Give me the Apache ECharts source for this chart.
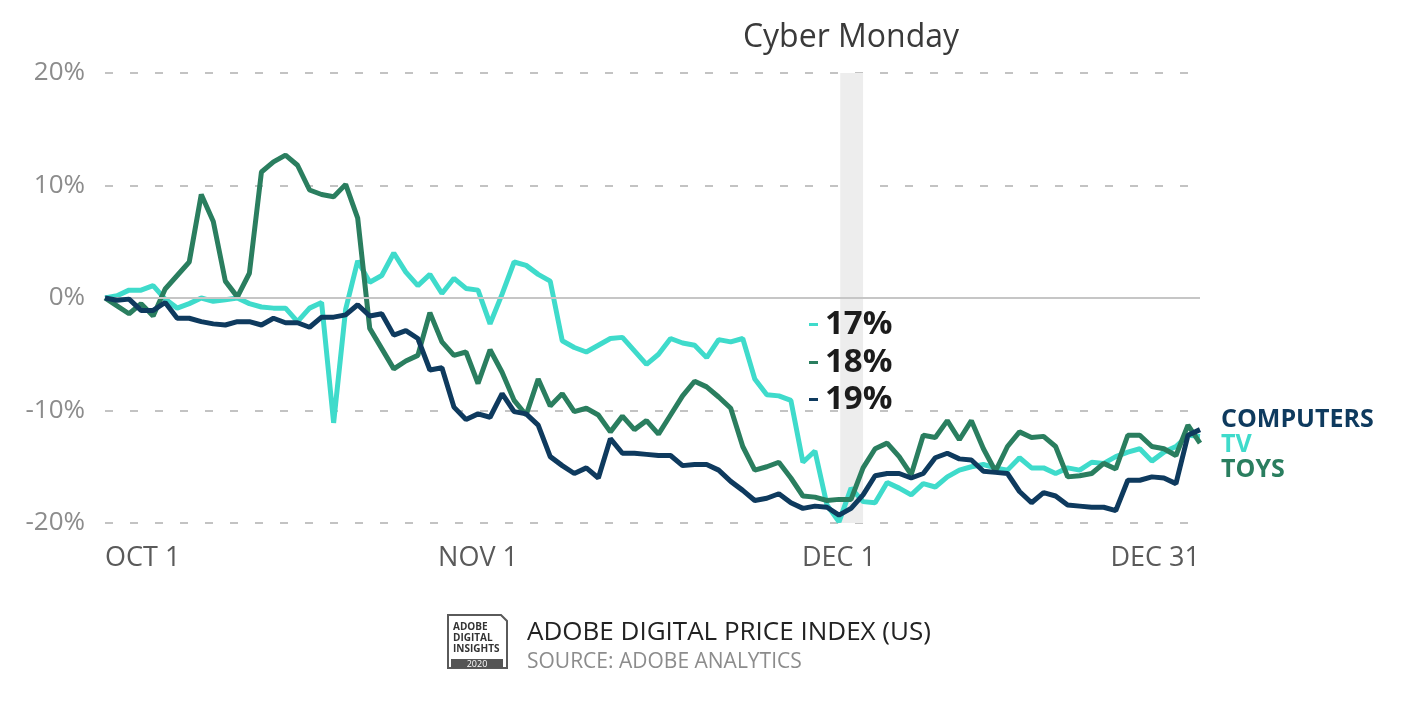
<!DOCTYPE html>
<html>
<head>
<meta charset="utf-8">
<script src="https://cdn.jsdelivr.net/npm/echarts@6/dist/echarts.min.js"></script>
<style>
html,body{margin:0;padding:0;background:#fff;}
#c{width:1417px;height:703px;}
</style>
</head>
<body>
<div id="c"></div>
<script>
// Day index 0 = Oct 1 ... 91 = Dec 31
var xTickDays = [0, 31, 61, 91];
var xTickLabels = ['OCT 1', 'NOV 1', 'DEC 1', 'DEC 31'];
var yTicks = [-20, -10, 0, 10, 20];

var computers = [0,-0.2,-0.1,-1.1,-1.1,-0.4,-1.8,-1.8,-2.1,-2.3,-2.4,-2.1,-2.1,-2.4,-1.8,-2.2,-2.2,-2.6,-1.7,-1.7,
  -1.5,-0.6,-1.6,-1.4,-3.3,-2.9,-3.6,-6.4,-6.2,-9.7,-10.8,-10.3,-10.6,-8.5,-10.1,-10.3,-11.3,-14.1,-14.9,-15.6,
  -15.1,-16.0,-12.5,-13.8,-13.8,-13.9,-14.0,-14.0,-14.9,-14.8,-14.8,-15.3,-16.3,-17.1,-18.0,-17.8,-17.4,-18.2,-18.7,-18.5,
  -18.6,-19.3,-18.7,-17.5,-15.8,-15.6,-15.6,-16.0,-15.6,-14.2,-13.8,-14.3,-14.4,-15.4,-15.5,-15.6,-17.2,-18.2,-17.3,-17.6,
  -18.4,-18.5,-18.6,-18.6,-18.9,-16.2,-16.2,-15.9,-16.0,-16.5,-12.2,-11.7];
var tv = [0,0.2,0.7,0.7,1.1,-0.1,-0.9,-0.5,0,-0.3,-0.15,0,-0.5,-0.8,-0.9,-0.9,-2.1,-0.9,-0.4,-11.1,
  -1.0,3.3,1.4,2.0,4.0,2.3,1.1,2.1,0.4,1.75,0.85,0.7,-2.3,0.35,3.2,2.9,2.1,1.5,-3.8,-4.4,
  -4.8,-4.2,-3.6,-3.5,-4.7,-5.9,-5.0,-3.6,-4.0,-4.2,-5.3,-3.7,-3.9,-3.6,-7.2,-8.6,-8.7,-9.1,-14.6,-13.6,
  -18.4,-19.9,-16.9,-18.1,-18.2,-16.4,-16.9,-17.5,-16.5,-16.8,-15.9,-15.3,-15.0,-14.8,-15.1,-15.3,-14.2,-15.1,-15.1,-15.6,
  -15.1,-15.3,-14.6,-14.7,-14.1,-13.7,-13.4,-14.5,-13.7,-13.2,-12.2,-12.3];
var toys = [0,-0.7,-1.4,-0.5,-1.6,0.8,2.0,3.2,9.2,6.8,1.5,0.1,2.2,11.2,12.1,12.7,11.8,9.6,9.2,9.0,
  10.1,7.1,-2.7,-4.5,-6.3,-5.6,-5.1,-1.3,-3.9,-5.1,-4.8,-7.6,-4.6,-6.6,-9.1,-10.4,-7.2,-9.6,-8.5,-10.1,
  -9.8,-10.4,-11.9,-10.5,-11.7,-10.9,-12.1,-10.4,-8.7,-7.4,-7.9,-8.8,-9.8,-13.2,-15.3,-15.0,-14.6,-16.0,-17.6,-17.7,
  -18.0,-17.9,-17.9,-15.1,-13.4,-12.9,-14.1,-15.7,-12.2,-12.4,-10.9,-12.6,-10.9,-13.4,-15.4,-13.2,-11.9,-12.4,-12.3,-13.2,
  -15.9,-15.8,-15.6,-14.7,-15.2,-12.2,-12.2,-13.2,-13.4,-14.0,-11.3,-12.9];
var cyberMondayBand = [61.1, 63];
var annotations = ['17%', '18%', '19%'];
var seriesNames = ['COMPUTERS', 'TV', 'TOYS'];

var C_NAVY = '#0e3a5e', C_TEAL = '#3fdbcb', C_GREEN = '#2a7e5f';
var FONT = '"Open Sans", "Noto Sans", sans-serif';
var BFONT = '"Open Sans", "Noto Sans", sans-serif';

function pts(arr){ return arr.map(function(v,i){ return [i, v]; }); }

var chart = echarts.init(document.getElementById('c'));
chart.setOption({
  animation: false,
  backgroundColor: '#ffffff',
  grid: { left: 105, right: 217, top: 73, bottom: 180, containLabel: false },
  xAxis: {
    type: 'value', min: 0, max: 91,
    axisLine: { show: false }, axisTick: { show: false }, splitLine: { show: false },
    axisLabel: {
      customValues: xTickDays,
      margin: 22,
      alignMinLabel: 'left', alignMaxLabel: 'right',
      color: '#5a5a5a', fontSize: 27, fontFamily: FONT,
      formatter: function(v){ var k = xTickDays.indexOf(Math.round(v)); return k >= 0 ? xTickLabels[k] : ''; }
    }
  },
  yAxis: {
    type: 'value', min: -20, max: 20, interval: 10,
    axisLine: { show: false }, axisTick: { show: false },
    axisLabel: { margin: 20, color: '#8c8c8c', fontSize: 26, fontFamily: FONT,
      formatter: function(v){ return yTicks.indexOf(v) >= 0 ? v + '%' : ''; } },
    splitLine: { show: true, lineStyle: { color: '#c3c3c3', width: 2, type: [8, 17] } }
  },
  series: [
    { name: 'TV', type: 'line', data: pts(tv), showSymbol: false, symbol: 'none',
      lineStyle: { color: C_TEAL, width: 5 }, itemStyle: { color: C_TEAL }, z: 3,
      markArea: { silent: true, itemStyle: { color: '#ededed' },
        data: [[{ xAxis: cyberMondayBand[0], yAxis: 20 }, { xAxis: cyberMondayBand[1], yAxis: -20 }]] },
      markLine: { silent: true, symbol: 'none', label: { show: false },
        lineStyle: { color: '#c6c6c6', width: 2, type: 'solid' }, data: [{ yAxis: 0 }] }
    },
    { name: 'TOYS', type: 'line', data: pts(toys), showSymbol: false, symbol: 'none',
      lineStyle: { color: C_GREEN, width: 5 }, itemStyle: { color: C_GREEN }, z: 4 },
    { name: 'COMPUTERS', type: 'line', data: pts(computers), showSymbol: false, symbol: 'none',
      lineStyle: { color: C_NAVY, width: 5 }, itemStyle: { color: C_NAVY }, z: 5 }
  ],
  graphic: [
    { type: 'text', z: 100, style: { text: 'Cyber Monday', x: 851, y: 38, fill: '#3a3a3a',
      font: '32px ' + FONT, textAlign: 'center', textVerticalAlign: 'middle' } },
    // annotations
    { type: 'rect', z: 101, shape: { x: 809, y: 323, width: 9, height: 3 }, style: { fill: C_TEAL } },
    { type: 'rect', z: 101, shape: { x: 809, y: 361, width: 9, height: 3 }, style: { fill: C_GREEN } },
    { type: 'rect', z: 101, shape: { x: 809, y: 398, width: 9, height: 3 }, style: { fill: C_NAVY } },
    { type: 'text', z: 101, style: { text: annotations[0], x: 825, y: 325, fill: '#1c1c1c', font: 'bold 33px ' + BFONT, textVerticalAlign: 'middle' } },
    { type: 'text', z: 101, style: { text: annotations[1], x: 825, y: 363, fill: '#1c1c1c', font: 'bold 33px ' + BFONT, textVerticalAlign: 'middle' } },
    { type: 'text', z: 101, style: { text: annotations[2], x: 825, y: 400, fill: '#1c1c1c', font: 'bold 33px ' + BFONT, textVerticalAlign: 'middle' } },
    // right side labels
    { type: 'text', z: 100, style: { text: seriesNames[0], x: 1221, y: 420, fill: C_NAVY, font: 'bold 25px ' + FONT, textVerticalAlign: 'middle' } },
    { type: 'text', z: 100, style: { text: seriesNames[1], x: 1221, y: 445, fill: C_TEAL, font: 'bold 25px ' + FONT, textVerticalAlign: 'middle' } },
    { type: 'text', z: 100, style: { text: seriesNames[2], x: 1221, y: 470, fill: C_GREEN, font: 'bold 25px ' + FONT, textVerticalAlign: 'middle' } },
    // footer badge
    { type: 'polygon', z: 100, shape: { points: [[448,615],[501,615],[507,621],[507,668],[448,668]] },
      style: { fill: '#ffffff', stroke: '#5a5a5a', lineWidth: 2 } },
    { type: 'rect', z: 101, shape: { x: 451, y: 659, width: 52, height: 9 }, style: { fill: '#555555' } },
    { type: 'text', z: 102, style: { text: '2020', x: 477, y: 664, fill: '#ffffff', font: '9px ' + FONT, textAlign: 'center', textVerticalAlign: 'middle' } },
    { type: 'text', z: 101, style: { text: 'ADOBE', x: 453, y: 627, fill: '#333333', font: 'bold 10px ' + FONT, textVerticalAlign: 'middle' } },
    { type: 'text', z: 101, style: { text: 'DIGITAL', x: 453, y: 638, fill: '#333333', font: 'bold 10px ' + FONT, textVerticalAlign: 'middle' } },
    { type: 'text', z: 101, style: { text: 'INSIGHTS', x: 453, y: 649, fill: '#333333', font: 'bold 10px ' + FONT, textVerticalAlign: 'middle' } },
    { type: 'text', z: 100, style: { text: 'ADOBE DIGITAL PRICE INDEX (US)', x: 527, y: 633, fill: '#222222', font: '26px ' + FONT, textVerticalAlign: 'middle' } },
    { type: 'text', z: 100, style: { text: 'SOURCE: ADOBE ANALYTICS', x: 527, y: 662, fill: '#8c8c8c', font: '21px ' + FONT, textVerticalAlign: 'middle' } }
  ]
});
</script>
</body>
</html>
